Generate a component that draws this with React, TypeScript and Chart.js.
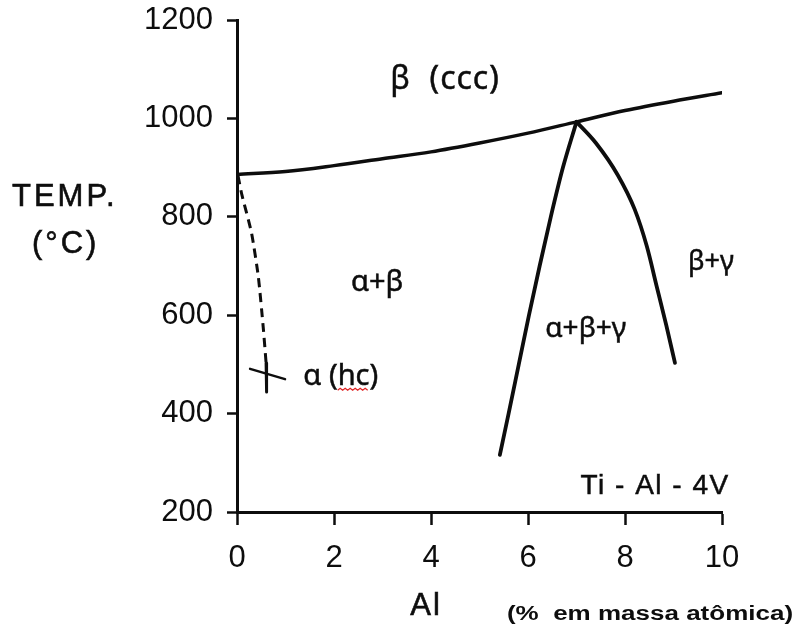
import { useEffect, useRef } from "react";
import { Chart, registerables } from "chart.js";

Chart.register(...registerables);

// Axis ticks
const alTicks = [0, 2, 4, 6, 8, 10];
const tempTicks = [200, 400, 600, 800, 1000, 1200];

// β-transus line
const transusAl = [0, 1, 2, 3, 4, 5, 6, 7, 8, 9, 10];
const transusTemp = [886, 892, 904, 918, 932, 950, 970, 993, 1016, 1035, 1052];

// α+β / α+β+γ boundary
const leftBoundaryAl = [5.42, 5.6, 5.81, 6.02, 6.24, 6.47, 6.72, 7.0];
const leftBoundaryTemp = [316, 400, 500, 600, 700, 800, 900, 993];

// α+β+γ / β+γ boundary
const rightBoundaryAl = [7.0, 7.4, 7.85, 8.2, 8.45, 8.65, 8.85, 9.03];
const rightBoundaryTemp = [993, 950, 885, 815, 740, 660, 580, 503];

// α / α+β boundary (dashed)
const alphaDashedAl = [0.02, 0.1, 0.3, 0.44, 0.54, 0.6];
const alphaDashedTemp = [884, 845, 767, 678, 576, 503];

// pointer to the α field
const alphaStemAl = [0.6, 0.61];
const alphaStemTemp = [503, 444];
const alphaTickAl = [0.27, 0.99];
const alphaTickTemp = [491, 470];

// Phase field names and their anchors (Al %, °C)
const phaseNames = ["β  (ccc)", "α+β", "β+γ", "α+β+γ", "Ti - Al - 4V"];
const phaseAl = [4.29, 2.89, 9.77, 7.19, 8.62];
const phaseTemp = [1078, 667, 708, 572, 253];

const alphaName = "α (hc)";
const alphaAl = 2.14;
const alphaTemp = 474;

const toPoints = (xs: number[], ys: number[]) => xs.map((x, i) => ({ x, y: ys[i] }));

const INK = "#0d0d0d";

const textPlugin = {
  id: "phaseText",
  afterDraw(chart: any) {
    const { ctx, scales } = chart;
    const sx = scales.x;
    const sy = scales.y;
    ctx.save();
    ctx.fillStyle = INK;
    ctx.strokeStyle = INK;
    ctx.textAlign = "center";
    ctx.textBaseline = "middle";

    const phaseFonts = [
      "32px 'Noto Sans'",
      "29px 'Noto Sans'",
      "27px 'Noto Sans'",
      "28px 'Noto Sans'",
      "28px 'Liberation Sans'",
    ];
    const phaseSpacing = ["1px", "0px", "0px", "0px", "1.5px"];
    phaseNames.forEach((name, i) => {
      ctx.font = phaseFonts[i];
      ctx.letterSpacing = phaseSpacing[i];
      const px = sx.getPixelForValue(phaseAl[i]);
      const py = sy.getPixelForValue(phaseTemp[i]);
      ctx.fillText(name, px, py);
      ctx.lineWidth = 0.5;
      ctx.strokeText(name, px, py);
    });
    ctx.letterSpacing = "0px";

    // α (hc) with its wavy underline under "hc"
    ctx.font = "29px 'Noto Sans'";
    const ax = sx.getPixelForValue(alphaAl);
    const ay = sy.getPixelForValue(alphaTemp);
    ctx.fillText(alphaName, ax, ay);
    ctx.lineWidth = 0.5;
    ctx.strokeText(alphaName, ax, ay);
    const full = ctx.measureText(alphaName).width;
    const pre = ctx.measureText("α (").width;
    const hc = ctx.measureText("hc").width;
    const x0 = ax - full / 2 + pre;
    const x1 = x0 + hc;
    const wy = ay + 13;
    ctx.strokeStyle = "#e02020";
    ctx.lineWidth = 1.2;
    ctx.beginPath();
    let up = true;
    ctx.moveTo(x0, wy);
    for (let px = x0 + 2.5; px <= x1 + 0.1; px += 2.5) {
      ctx.lineTo(px, up ? wy - 2 : wy);
      up = !up;
    }
    ctx.stroke();

    // Axis titles
    ctx.fillStyle = INK;
    ctx.strokeStyle = INK;
    ctx.lineWidth = 0.6;
    ctx.font = "31px 'Liberation Sans'";
    ctx.textAlign = "left";
    ctx.letterSpacing = "3px";
    ctx.fillText("TEMP.", 12, 197);
    ctx.strokeText("TEMP.", 12, 197);
    ctx.fillText("(°C)", 32, 244);
    ctx.strokeText("(°C)", 32, 244);
    ctx.textAlign = "center";
    ctx.letterSpacing = "2px";
    ctx.fillText("Al", 426, 606);
    ctx.strokeText("Al", 426, 606);
    ctx.letterSpacing = "0px";

    ctx.font = "bold 20px 'Liberation Sans'";
    ctx.save();
    ctx.translate(650, 614);
    ctx.scale(1.3, 1);
    ctx.fillText("(%  em massa atômica)", 0, 0);
    ctx.restore();

    ctx.restore();
  },
};

export default function App() {
  const canvasRef = useRef<HTMLCanvasElement | null>(null);

  useEffect(() => {
    const canvas = canvasRef.current;
    if (!canvas) return;

    const line = (xs: number[], ys: number[], width: number, extra: any = {}) => ({
      data: toPoints(xs, ys),
      showLine: true,
      borderColor: INK,
      borderWidth: width,
      pointRadius: 0,
      cubicInterpolationMode: "monotone",
      borderCapStyle: "round",
      borderJoinStyle: "round",
      ...extra,
    });

    const tickFont = { family: "'Liberation Sans'", size: 31 };

    const chart = new Chart(canvas, {
      type: "scatter",
      data: {
        datasets: [
          line(transusAl, transusTemp, 3.5),
          line(leftBoundaryAl, leftBoundaryTemp, 3.8),
          line(rightBoundaryAl, rightBoundaryTemp, 3.8),
          line(alphaDashedAl, alphaDashedTemp, 3, {
            borderDash: [9, 6],
            borderCapStyle: "butt",
            cubicInterpolationMode: "default",
            tension: 0.2,
          }),
          line(alphaStemAl, alphaStemTemp, 3, { cubicInterpolationMode: "default", tension: 0 }),
          line(alphaTickAl, alphaTickTemp, 2.5, { cubicInterpolationMode: "default", tension: 0 }),
        ] as any,
      },
      options: {
        animation: false,
        responsive: false,
        devicePixelRatio: 1,
        layout: { padding: { left: 0, right: 71, top: 20, bottom: 0 } },
        plugins: {
          legend: { display: false },
          tooltip: { enabled: false },
        },
        scales: {
          x: {
            type: "linear",
            min: 0,
            max: 10,
            afterBuildTicks: (axis: any) => {
              axis.ticks = alTicks.map((v) => ({ value: v }));
            },
            afterFit: (axis: any) => {
              axis.height = 119;
              axis.paddingLeft = 0;
              axis.paddingRight = 0;
            },
            border: { display: true, color: INK, width: 3 },
            grid: {
              display: true,
              drawOnChartArea: false,
              drawTicks: true,
              tickLength: 13,
              tickWidth: 2.5,
              tickColor: INK,
            },
            ticks: {
              color: INK,
              padding: 15,
              font: tickFont,
              callback: (v: any) => String(v),
            },
          },
          y: {
            type: "linear",
            min: 200,
            max: 1200,
            afterBuildTicks: (axis: any) => {
              axis.ticks = tempTicks.map((v) => ({ value: v }));
            },
            afterFit: (axis: any) => {
              axis.width = 237;
              axis.paddingTop = 0;
              axis.paddingBottom = 0;
            },
            border: { display: true, color: INK, width: 3 },
            grid: {
              display: true,
              drawOnChartArea: false,
              drawTicks: true,
              tickLength: 10,
              tickWidth: 2.5,
              tickColor: INK,
            },
            ticks: {
              color: INK,
              padding: 14,
              font: tickFont,
              callback: (v: any) => String(v),
            },
          },
        },
      } as any,
      plugins: [textPlugin],
    });

    return () => chart.destroy();
  }, []);

  return (
    <div style={{ position: "fixed", left: 0, top: 0, width: 793, height: 631, background: "#fff" }}>
      <canvas ref={canvasRef} width={793} height={631} />
    </div>
  );
}
